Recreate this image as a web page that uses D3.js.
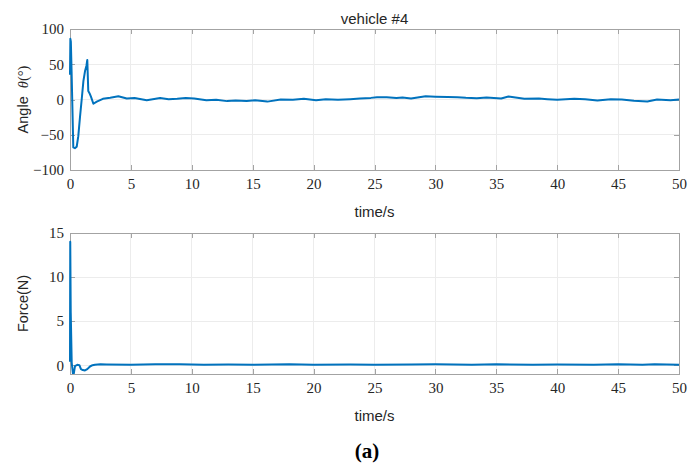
<!DOCTYPE html>
<html>
<head>
<meta charset="utf-8">
<script src="https://cdn.jsdelivr.net/npm/d3@7"></script>
<style>
  html, body { margin: 0; padding: 0; background: #fff; }
  svg { display: block; }
</style>
</head>
<body>
<svg id="chart" width="691" height="468"></svg>
<script>
// Vehicle #4: pendulum angle and control force over time
const angleTime = [0, 0.03, 0.07, 0.13, 0.27, 0.4, 0.55, 0.68, 0.82, 0.96, 1.1, 1.23, 1.35, 1.42, 1.5, 1.6, 1.72, 1.92, 2.2, 2.7, 3.3, 3.97, 4.66, 5.3, 6.3, 7.4, 8.1, 8.8, 9.5, 10.2, 11.2, 12.0, 12.9, 13.6, 14.5, 15.2, 16.2, 17.3, 18.3, 19.2, 20.2, 21.0, 22.0, 23.0, 23.8, 24.7, 25.2, 26.0, 26.8, 27.3, 28.0, 29.2, 30.0, 31.0, 31.8, 32.5, 33.4, 34.2, 35.4, 36.0, 37.3, 38.5, 39.2, 40.0, 41.4, 42.3, 43.3, 44.4, 45.3, 46.3, 47.4, 48.2, 49.3, 50];
const angleDeg = [35, 86, 82, 40, -68, -69, -67, -52, -25, 0, 26, 40, 48, 56, 12, 9, 4, -6, -3, 1, 2.5, 4.5, 1.4, 2, -1, 2, 0.5, 1, 2, 1.4, -1, -0.5, -2.3, -1.5, -2, -1.2, -3, 0, -0.5, 1, -1, 0.5, -0.5, 0.5, 1.4, 2.3, 3.3, 3.3, 2, 3, 1.4, 4.7, 4, 3.5, 3.3, 2.5, 1.9, 3, 1.4, 4.2, 1, 1.5, 0.5, -0.5, 1, 0.5, -1.4, 0.5, 0, -1.9, -2.8, 0, -1, 0];

const forceTime = [0, 0.02, 0.06, 0.14, 0.27, 0.41, 0.6, 0.77, 0.9, 1.05, 1.23, 1.42, 1.64, 1.85, 2.05, 2.5, 3, 5, 7, 9, 11, 13, 15, 18, 20, 23, 25, 28, 30, 33, 35, 38, 40, 43, 45, 47, 48, 50];
const forceN = [0.4, 14, 6, 0.3, -1.3, -0.1, 0.05, 0.0, -0.45, -0.55, -0.6, -0.45, -0.15, 0.0, 0.05, 0.1, 0.08, 0.05, 0.12, 0.1, 0.05, 0.08, 0.05, 0.12, 0.06, 0.08, 0.05, 0.08, 0.1, 0.06, 0.1, 0.05, 0.08, 0.06, 0.1, 0.05, 0.12, 0.05];

const xTicks = [0, 5, 10, 15, 20, 25, 30, 35, 40, 45, 50];
const angleTicks = [-100, -50, 0, 50, 100];
const forceTicks = [0, 5, 10, 15];

const svg = d3.select("#chart");
const left = 70, right = 679;
const axisColor = "#a3a3a3", gridColor = "#ececec", textColor = "#262626", lineColor = "#0072BD";
const tickFont = "'Liberation Serif', 'Times New Roman', serif";
const labelFont = "'Liberation Sans', Arial, Helvetica, sans-serif";

const x = d3.scaleLinear().domain([0, 50]).range([left, right]);

function fmt(v) { return v < 0 ? "\u2212" + Math.abs(v) : String(v); }

function panel(cfg) {
  const y = d3.scaleLinear().domain(cfg.yDomain).range([cfg.bottom, cfg.top]);
  const g = svg.append("g");
  const clipId = "clip" + cfg.id;
  // clip vertically to the box; leave room at the sides for the stroke
  svg.append("clipPath").attr("id", clipId)
    .append("rect").attr("x", left - 3).attr("y", cfg.top).attr("width", right - left + 6).attr("height", cfg.bottom - cfg.top);

  // grid
  g.selectAll(".vg").data(xTicks).join("line")
    .attr("x1", d => x(d)).attr("x2", d => x(d)).attr("y1", cfg.top).attr("y2", cfg.bottom)
    .attr("stroke", gridColor).attr("stroke-width", 1).attr("shape-rendering", "crispEdges");
  g.selectAll(".hg").data(cfg.yTicks).join("line")
    .attr("x1", left).attr("x2", right).attr("y1", d => y(d)).attr("y2", d => y(d))
    .attr("stroke", gridColor).attr("stroke-width", 1).attr("shape-rendering", "crispEdges");

  // axes with inward ticks on all four sides
  const bottomAx = d3.axisBottom(x).tickValues(xTicks).tickSizeInner(-5).tickSizeOuter(0).tickPadding(8).tickFormat(fmt);
  const topAx = d3.axisTop(x).tickValues(xTicks).tickSizeInner(-5).tickSizeOuter(0).tickFormat("");
  const leftAx = d3.axisLeft(y).tickValues(cfg.yTicks).tickSizeInner(-5).tickSizeOuter(0).tickPadding(6).tickFormat(fmt);
  const rightAx = d3.axisRight(y).tickValues(cfg.yTicks).tickSizeInner(-5).tickSizeOuter(0).tickFormat("");

  const axes = [
    g.append("g").attr("transform", `translate(0,${cfg.bottom})`).call(bottomAx),
    g.append("g").attr("transform", `translate(0,${cfg.top})`).call(topAx),
    g.append("g").attr("transform", `translate(${left},0)`).call(leftAx),
    g.append("g").attr("transform", `translate(${right},0)`).call(rightAx)
  ];
  axes.forEach(a => {
    a.select(".domain").attr("stroke", axisColor).attr("shape-rendering", "crispEdges");
    a.selectAll(".tick line").attr("stroke", axisColor).attr("shape-rendering", "crispEdges");
    a.selectAll(".tick text").attr("fill", textColor).attr("font-family", tickFont).attr("font-size", 15);
  });

  // data line drawn over the box
  const pts = cfg.t.map((t, i) => [t, cfg.v[i]]);
  g.append("path").datum(pts)
    .attr("clip-path", `url(#${clipId})`)
    .attr("fill", "none").attr("stroke", lineColor).attr("stroke-width", 2)
    .attr("stroke-linejoin", "round")
    .attr("d", d3.line().x(d => x(d[0])).y(d => y(d[1])));

  // x label
  g.append("text").attr("x", (left + right) / 2).attr("y", cfg.bottom + 47)
    .attr("text-anchor", "middle").attr("font-family", labelFont).attr("font-size", 15)
    .attr("fill", textColor).text("time/s");

  // y label
  const yl = g.append("text")
    .attr("transform", `translate(28,${(cfg.top + cfg.bottom) / 2}) rotate(-90)`)
    .attr("text-anchor", "middle").attr("font-family", labelFont).attr("font-size", 14.5)
    .attr("fill", textColor);
  cfg.ylabel(yl);
  return g;
}

panel({
  id: "a", top: 29, bottom: 170, yDomain: [-100, 100], yTicks: angleTicks,
  t: angleTime, v: angleDeg,
  ylabel: t => {
    t.append("tspan").text("Angle\u00a0\u00a0");
    t.append("tspan").attr("font-family", tickFont).attr("font-style", "italic").text("\u03b8");
    t.append("tspan").attr("font-family", tickFont).text("(\u00b0)");
  }
});

panel({
  id: "f", top: 233, bottom: 374, yDomain: [-1, 15], yTicks: forceTicks,
  t: forceTime, v: forceN,
  ylabel: t => t.text("Force(N)")
});

// title
svg.append("text").attr("x", (left + right) / 2).attr("y", 24)
  .attr("text-anchor", "middle").attr("font-family", labelFont).attr("font-size", 15)
  .attr("fill", textColor).text("vehicle #4");

// caption
svg.append("text").attr("x", 367).attr("y", 458)
  .attr("text-anchor", "middle").attr("font-family", tickFont).attr("font-weight", "bold")
  .attr("font-size", 21).attr("fill", "#000").text("(a)");
</script>
</body>
</html>
